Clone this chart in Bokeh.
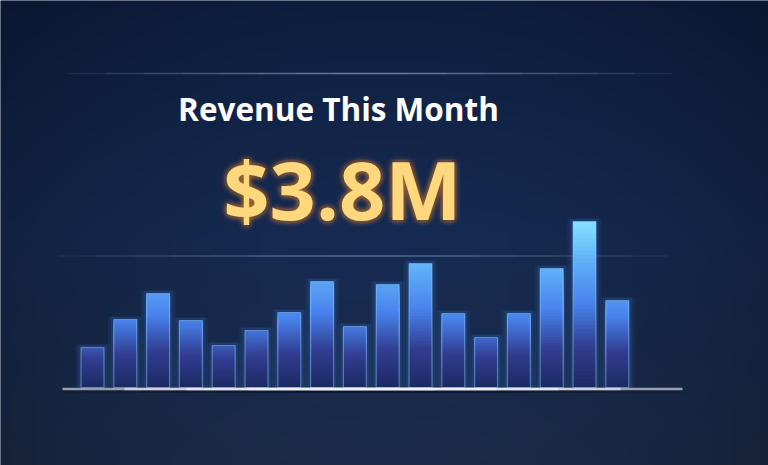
import numpy as np
from bokeh.plotting import figure
from bokeh.models import Range1d, Label
from bokeh.embed import file_html
from bokeh.resources import INLINE

# ---- data ----
days = list(range(1, 18))
revenue = [40, 68, 94, 67, 42, 57, 75, 106, 61, 103, 124, 74, 50, 74, 119, 166, 87]
title_text = "Revenue This Month"
total_text = "$3.8M"

W, H = 768, 465
STEP = 32.8
X0 = 92.0
BASE = 387.0

def xd(px):
    return (px - X0) / STEP + 1

def yd(py):
    return BASE - py

p = figure(width=W, height=H, output_backend="svg", toolbar_location=None,
           x_range=Range1d(xd(0), xd(W)), y_range=Range1d(yd(H), yd(0)),
           min_border=0, outline_line_color=None)
p.axis.visible = False
p.grid.visible = False
p.background_fill_color = "#13264a"
p.border_fill_color = "#13264a"

# ---- background gradient ----
ny, nx = 93, 154
yy = np.linspace(0, 1, ny)[:, None]
xx = np.linspace(0, 1, nx)[None, :]
top = np.array([14, 30, 62])
mid = np.array([22, 43, 82])
bot = np.array([27, 43, 72])
t = yy
col = np.where(t[..., None] < 0.5,
               top + (mid - top) * (t[..., None] / 0.5),
               mid + (bot - mid) * ((t[..., None] - 0.5) / 0.5))
col = np.broadcast_to(col, (ny, nx, 3)).astype(float)
vig = 1 - 0.22 * ((xx - 0.5) * 2) ** 2
col = col * vig[..., None]
img = np.zeros((ny, nx), dtype=np.uint32)
view = img.view(dtype=np.uint8).reshape((ny, nx, 4))
view[..., 0] = np.clip(col[..., 0], 0, 255)
view[..., 1] = np.clip(col[..., 1], 0, 255)
view[..., 2] = np.clip(col[..., 2], 0, 255)
view[..., 3] = 255
img = img[::-1]
p.image_rgba(image=[img], x=xd(0), y=yd(H), dw=xd(W) - xd(0), dh=yd(0) - yd(H))

# ---- faint horizontal lines (faded ends, drawn as nested overlapping segments) ----
def faded_line(px0, px1, py, color, width, alpha, n=8, gain=1.6):
    for i in range(n):
        f = 0.5 * i / n
        a = alpha / n * gain
        p.segment(x0=[xd(px0 + (px1 - px0) * f)], y0=[yd(py)],
                  x1=[xd(px1 - (px1 - px0) * f)], y1=[yd(py)],
                  line_color=color, line_width=width, line_alpha=min(a, 1))

faded_line(68, 672, 73, "#a8bade", 1.5, 0.55)
faded_line(58, 668, 255.5, "#93a8d0", 1.5, 0.45)

# ---- bars with glow and gradient ----
stops = [(0.0, (28, 42, 98)), (0.25, (50, 62, 146)), (0.5, (72, 130, 236)),
         (0.75, (94, 174, 248)), (1.0, (134, 226, 255))]
vmax = max(revenue)

def lerp_color(f):
    f = min(max(f, 0), 1)
    for (a, ca), (b, cb) in zip(stops[:-1], stops[1:]):
        if f <= b:
            u = (f - a) / (b - a)
            return tuple(int(ca[k] + (cb[k] - ca[k]) * u) for k in range(3))
    return stops[-1][1]

bw = 0.70
# glow
for gw, ga in [(1.05, 0.08), (0.88, 0.12)]:
    p.vbar(x=days, top=[v + 3 for v in revenue], bottom=0, width=gw,
           fill_color="#3f8cff", fill_alpha=ga, line_color=None)

nseg = 40
xs, tops, cols = [], [], []
for d, v in zip(days, revenue):
    edges = np.linspace(0, v, nseg + 1)
    for i in range(nseg - 1, -1, -1):
        mid_v = (edges[i] + edges[i + 1]) / 2
        f_abs = mid_v / vmax
        f_rel = mid_v / v
        f = 0.65 * f_abs + 0.35 * f_rel * (v / vmax) ** 0.4
        r, g, b = lerp_color(f)
        xs.append(d); tops.append(edges[i + 1])
        cols.append("#%02x%02x%02x" % (r, g, b))
p.vbar(x=xs, bottom=0, top=tops, width=bw, fill_color=cols, line_color=None)

p.vbar(x=days, top=revenue, bottom=0, width=bw, fill_alpha=0,
       line_color="#9ad0ff", line_alpha=0.45, line_width=1.2)

# ---- baseline ----
faded_line(62, 682, 391, "#08112a", 3, 0.6, n=4)
faded_line(62, 682, 388.5, "#eef2f8", 2.5, 1.0, n=5, gain=3.0)

# ---- texts ----
p.add_layout(Label(x=xd(338), y=yd(108), text=title_text, text_align="center",
                   text_baseline="alphabetic", text_font="Open Sans",
                   text_font_style="bold", text_font_size="31.5px",
                   text_color="#ffffff"))

for r, a in [(6, 0.035), (3.5, 0.05)]:
    for ang in np.linspace(0, 2 * np.pi, 12, endpoint=False):
        p.add_layout(Label(x=xd(342) + r * np.cos(ang) / STEP, y=yd(188) + r * np.sin(ang),
                           text=total_text, text_align="center", text_baseline="alphabetic",
                           text_font="Open Sans", text_font_style="bold",
                           text_font_size="81px", text_color="#ff9a2e", text_alpha=a))
p.add_layout(Label(x=xd(342), y=yd(188), text=total_text, text_align="center",
                   text_baseline="alphabetic", text_font="Open Sans",
                   text_font_style="bold", text_font_size="81px",
                   text_color="#ffd77c"))

open("out.html", "w").write(file_html(p, INLINE))
